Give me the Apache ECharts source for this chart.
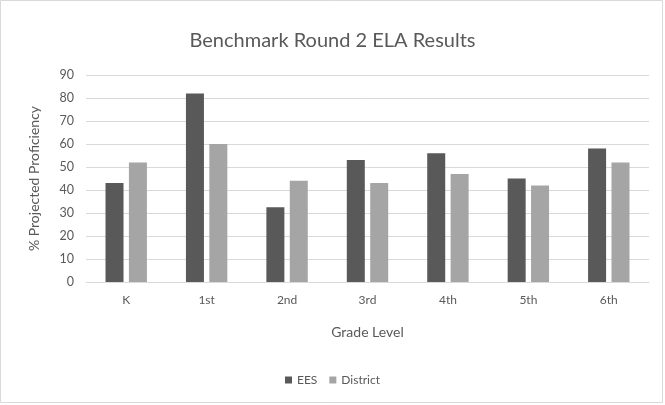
<!DOCTYPE html>
<html><head><meta charset="utf-8">
<script src="https://cdn.jsdelivr.net/npm/echarts@6/dist/echarts.min.js"></script>
<style>html,body{margin:0;padding:0;background:#fff;}#c{width:665px;height:405px;}</style>
</head><body><div id="c"></div>
<script>
const categories = ['K','1st','2nd','3rd','4th','5th','6th'];
const eesValues = [43, 82, 32.5, 53, 56, 45, 58];
const districtValues = [52, 60, 44, 43, 47, 42, 52];
const yTicks = [0,10,20,30,40,50,60,70,80,90];

const font = 'Lato, "Open Sans", sans-serif';
const chart = echarts.init(document.getElementById('c'));
chart.setOption({
  animation: false,
  backgroundColor: '#fff',
  graphic: [{type:'rect', shape:{x:0.5,y:0.5,width:662,height:402}, style:{fill:'none', stroke:'#d9d9d9', lineWidth:1}, silent:true}],
  title: {text:'Benchmark Round 2 ELA Results', left:'center', top:26,
    textStyle:{fontFamily:font, fontSize:20, fontWeight:'normal', color:'#595959'}},
  grid: {left:86, right:16, top:75, bottom:123, containLabel:false},
  legend: {bottom:14, left:'center', itemWidth:7, itemHeight:7, itemGap:12, icon:'rect',
    textStyle:{fontFamily:font, fontSize:12, color:'#595959'}},
  xAxis: {type:'category', data:categories, name:'Grade Level', nameLocation:'middle', nameGap:43,
    nameTextStyle:{fontFamily:font, fontSize:14, color:'#595959'},
    axisLine:{lineStyle:{color:'#d9d9d9'}}, axisTick:{show:false},
    axisLabel:{fontFamily:font, fontSize:12, color:'#595959', margin:12}},
  yAxis: {type:'value', min:0, max:90, interval:10, name:'% Projected Proficiency', nameLocation:'middle', nameGap:45,
    nameTextStyle:{fontFamily:font, fontSize:14, color:'#595959'},
    axisLine:{show:false}, axisTick:{show:false},
    splitLine:{lineStyle:{color:'#d9d9d9'}},
    axisLabel:{fontFamily:font, fontSize:12.5, color:'#595959', margin:12,
      formatter: v => yTicks.includes(v) ? String(v) : ''}},
  series: [
    {name:'EES', type:'bar', data:eesValues, barWidth:18, barGap:'30%', itemStyle:{color:'#595959'}},
    {name:'District', type:'bar', data:districtValues, barWidth:18, itemStyle:{color:'#a5a5a5'}}
  ]
});
</script></body></html>
